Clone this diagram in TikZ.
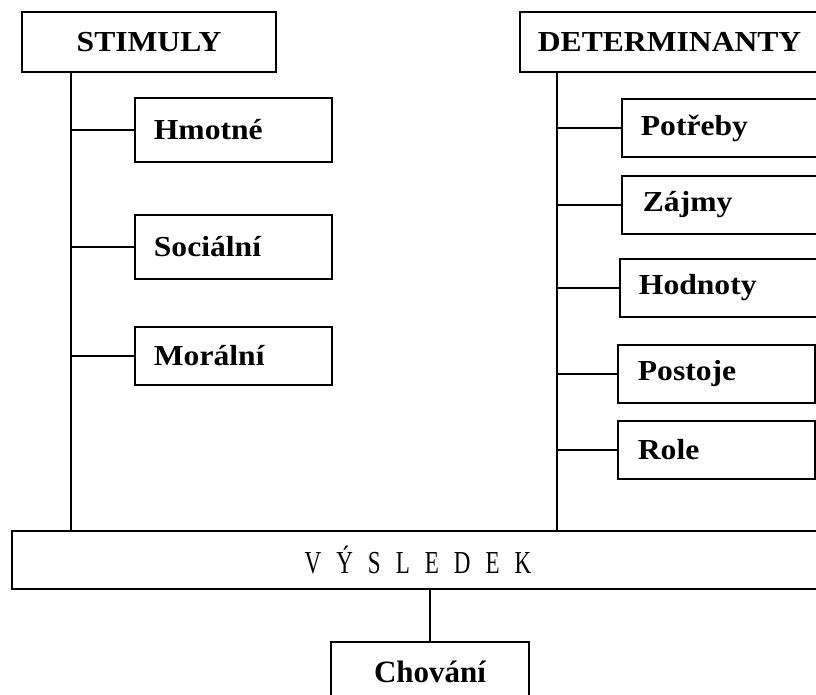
\documentclass[tikz,border=0pt]{standalone}
\usepackage{fontspec}
\setmainfont{Liberation Serif}
\newfontfamily\condfont[FakeStretch=0.72]{Liberation Serif}
\newfontfamily\widebold[FakeStretch=1.09]{Liberation Serif Bold}
\newfontfamily\condbold[FakeStretch=1.0]{Liberation Serif Bold}
\begin{document}
\begin{tikzpicture}[x=1pt,y=-1pt,
  every node/.style={line width=1.8pt},
  lbox/.style={draw, anchor=west, inner xsep=0pt, inner ysep=0pt, align=left,
    font=\fontsize{29}{31}\widebold},
  conn/.style={line width=2pt}]
\useasboundingbox (0,0) rectangle (816,694);
\clip (0,0) rectangle (816,694);
% headers
\node[draw, minimum width=254pt, minimum height=60pt, inner sep=0pt,
  font=\fontsize{29}{31}\widebold] (stim) at (149,42) {STIMULY};
\node[lbox, minimum height=60pt, text width=302pt, inner xsep=18pt] (det) at (519,42) {DETERMINANTY};
% left items
\node[lbox, minimum height=64pt, text width=159pt, inner xsep=19pt] (hm) at (134,130) {Hmotné};
\node[lbox, minimum height=64pt, text width=159pt, inner xsep=19pt] (so) at (134,247) {Sociální};
\node[lbox, minimum height=58pt, text width=159pt, inner xsep=19pt] (mo) at (134,356) {Morální};
% right items
\node[lbox, minimum height=58pt, text width=200pt, inner xsep=19pt] (po) at (621,128) {Potřeby};
\node[lbox, minimum height=58pt, text width=200pt, inner xsep=21pt] (za) at (621,205) {Zájmy};
\node[lbox, minimum height=58pt, text width=200pt, inner xsep=19pt] (ho) at (619,288) {Hodnoty};
\node[lbox, minimum height=58pt, text width=157pt, inner xsep=20pt] (ps) at (617,374) {Postoje};
\node[lbox, minimum height=58pt, text width=157pt, inner xsep=20pt] (ro) at (617,450) {Role};
% result
\node[draw, minimum width=812pt, minimum height=58pt, inner sep=0pt,
  font=\fontsize{32}{34}\condfont] (vys) at (418,560)
  {V\hspace{15pt}Ý\hspace{15pt}S\hspace{15pt}L\hspace{15pt}E\hspace{15pt}D\hspace{15pt}E\hspace{15pt}K};
\node[draw, minimum width=198pt, minimum height=60pt, inner sep=0pt,
  font=\fontsize{31}{33}\condbold] (ch) at (430,672) {Chování};
% trunks
\coordinate (lt) at ([xshift=50pt]stim.south west);
\coordinate (rt) at ([xshift=38pt]det.south west);
\draw[conn] (lt) -- (lt |- vys.north);
\draw[conn] (rt) -- (rt |- vys.north);
% branches
\foreach \n in {hm,so,mo} \draw[conn] (\n.west) -- (\n.west -| lt);
\foreach \n in {po,za,ho,ps,ro} \draw[conn] (\n.west) -- (\n.west -| rt);
\draw[conn] (vys.south -| ch.north) -- (ch.north);
\end{tikzpicture}
\end{document}
